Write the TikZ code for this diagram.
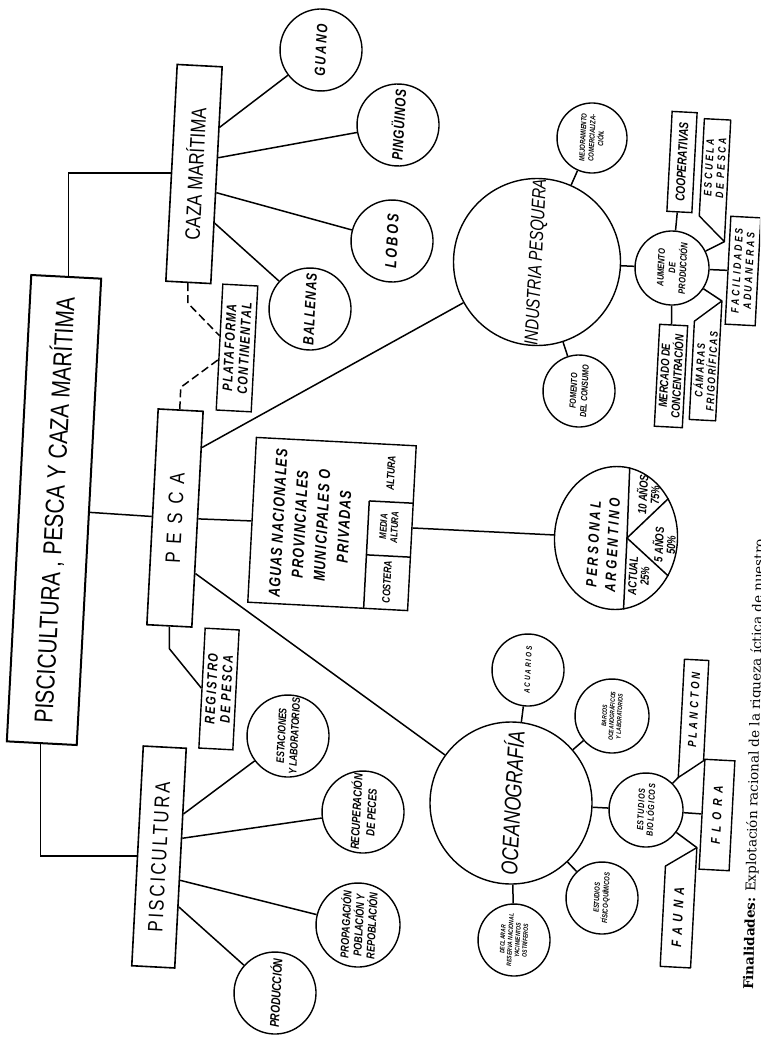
\documentclass[tikz,border=0pt]{standalone}
\usepackage{fontspec}
\setmainfont{Liberation Sans}
\newfontfamily\capsfont[FakeStretch=0.8]{Liberation Sans}
\newfontfamily\plainfont{Liberation Sans}
\newfontfamily\handfont[FakeStretch=0.78]{Liberation Sans}
\newfontfamily\notefont{DejaVu Serif}
\usetikzlibrary{calc}
\usetikzlibrary{shapes.geometric}
\newcommand\fsz[2]{\fontsize{#1}{#2}\selectfont}
\newcommand\spaced[1]{\addfontfeatures{LetterSpace=#1}}
\newcommand\hand{\handfont\bfseries\itshape}
\tikzset{
  conn/.style={line width=1.5pt},
  headbox/.style 2 args={draw, line width=1.6pt, rotate=87, inner sep=0pt, minimum width=#1, minimum height=#2, font=\capsfont\fsz{21}{25}},
  bubble/.style={circle, draw, line width=1.4pt, rotate=87, inner sep=0pt, minimum size=#1, align=center},
  tagbox/.style 2 args={draw, line width=1.4pt, rotate=87, inner sep=0pt, minimum width=#1, minimum height=#2, align=center},
  flagbox/.style 2 args={rotate=87, inner sep=0pt, minimum width=#1, minimum height=#2, align=center},
  flagline/.style={draw, line width=1.4pt, line join=round}
}

\begin{document}
\begin{tikzpicture}[x=1pt, y=-1pt]
    \useasboundingbox (0,0) rectangle (760,1038);
    \clip (0,0) rectangle (760,1038);

    % main headings
    \node [headbox={467pt}{70pt}, line width=2pt, font=\plainfont\fsz{26}{30}] (title) at (54,510) {\scalebox{0.8}[1]{PISCICULTURA , PESCA Y CAZA MARÍTIMA}};
    \node [headbox={217pt}{45pt}] (caza) at (194,174) {CAZA MARÍTIMA};
    \node [headbox={216pt}{45pt}, font=\capsfont\fsz{21}{25}\spaced{40}] (pesca) at (175,518) {PESCA};
    \node [headbox={220pt}{43pt}, font=\capsfont\fsz{21}{25}\spaced{12}] (pisc) at (159,857) {PISCICULTURA};

    % caza maritima
    \node [bubble=82pt, font=\hand\fsz{15}{17}\spaced{15}] (guano) at (321,50) {GUANO};
    \node [bubble=82pt, font=\hand\fsz{15}{17}\spaced{4}] (pingu) at (398,125) {PINGÜINOS};
    \node [bubble=82pt, font=\hand\fsz{16}{18}\spaced{15}] (lobos) at (392,241) {LOBOS};
    \node [bubble=82pt, font=\hand\fsz{15}{17}\spaced{8}] (ballenas) at (310,309) {BALLENAS};
    \node [tagbox={126pt}{35pt}, font=\hand\fsz{14}{15}\spaced{10}] (plat) at (237,348) {PLATAFORMA\\CONTINENTAL};
    \node [tagbox={120pt}{34pt}, font=\hand\fsz{14}{15}\spaced{14}] (reg) at (219,689) {REGISTRO\\DE PESCA};

    % industria pesquera
    \node [bubble=164pt, font=\handfont\itshape\fsz{19}{22}] (ind) at (537,262) {INDUSTRIA PESQUERA};
    \node [bubble=70pt, font=\hand\fsz{7.5}{9}] (mejor) at (592,138) {MEJORAMIENTO\\COMERCIALIZA-\\CIÓN.};
    \node [bubble=74pt, font=\hand\fsz{9.5}{11}] (aum) at (672,268) {AUMENTO\\DE\\PRODUCCIÓN};
    \node [bubble=72pt, font=\hand\fsz{9}{11}] (fom) at (579,391) {FOMENTO\\DEL CONSUMO};
    \node [tagbox={100pt}{25pt}, font=\hand\fsz{13}{14}] (coop) at (682,162) {COOPERATIVAS};
    \node [flagbox={97pt}{26pt}, font=\hand\fsz{11}{12}\spaced{25}] (esc) at (715,168) {ESCUELA\\DE PESCA};
    \node [tagbox={108pt}{30pt}, font=\hand\fsz{11}{12}\spaced{25}] (fac) at (743,271) {FACILIDADES\\ADUANERAS};
    \node [tagbox={102pt}{28pt}, font=\hand\fsz{12}{13}] (merc) at (671,376) {MERCADO DE\\CONCENTRACIÓN};
    \node [flagbox={98pt}{26pt}, font=\hand\fsz{11}{12}\spaced{15}] (cam) at (705,371) {CÁMARAS\\FRIGORÍFICAS};

    % aguas y personal
    \node [draw, line width=1.4pt, rotate=87, inner sep=0pt, minimum width=165pt, minimum height=160pt] (aguas) at (332,524) {};
    \node [rotate=87, align=center, font=\hand\fsz{16}{22}\spaced{8}] (aguastxt) at (311,525) {AGUAS NACIONALES\\PROVINCIALES\\MUNICIPALES O\\PRIVADAS};
    \node [rotate=87, font=\hand\fsz{11}{12}] (costera) at (387,582) {COSTERA};
    \node [rotate=87, align=center, font=\hand\fsz{10}{11}] (media) at (389,527) {MEDIA\\ALTURA};
    \node [rotate=87, font=\hand\fsz{11}{12}] (altura) at (391,473) {ALTURA};
    \node [ellipse, draw, line width=1.4pt, rotate=87, inner sep=0pt, minimum width=143pt, minimum height=123pt] (pers) at (616,538) {};
    \node [rotate=87, align=center, font=\hand\fsz{15}{19}\spaced{20}] (persname) at (603,545) {PERSONAL\\ARGENTINO};
    \node [rotate=87, align=center, font=\hand\fsz{12}{12}] (p10) at (648,495) {10 AÑOS\\75\%};
    \node [rotate=87, align=center, font=\hand\fsz{12}{12}] (p5) at (664,545) {5 AÑOS\\50\%};
    \node [rotate=87, align=center, font=\hand\fsz{12}{12}] (pact) at (639,576) {ACTUAL\\25\%};

    % oceanografia
    \node [bubble=162pt, font=\handfont\itshape\fsz{23}{26}] (ocean) at (511,803) {OCEANOGRAFÍA};
    \node [bubble=72pt, font=\hand\fsz{8}{9}\spaced{25}] (acu) at (528,670) {ACUARIOS};
    \node [bubble=74pt, font=\hand\fsz{6.5}{7.5}] (barc) at (612,716) {BARCOS\\OCEANOGRÁFICOS\\Y LABORATORIOS};
    \node [bubble=74pt, font=\hand\fsz{9}{10}\spaced{10}] (bio) at (646,810) {ESTUDIOS\\BIOLÓGICOS};
    \node [flagbox={100pt}{24pt}, font=\hand\fsz{12}{13}\spaced{28}] (planc) at (694,710) {PLANCTON};
    \node [tagbox={110pt}{30pt}, font=\hand\fsz{13}{14}\spaced{45}] (flora) at (717,815) {FLORA};
    \node [flagbox={100pt}{30pt}, font=\hand\fsz{14}{15}\spaced{40}] (fauna) at (678,917) {FAUNA};
    \node [bubble=72pt, font=\hand\fsz{7.5}{9}] (fis) at (602,898) {ESTUDIOS\\FÍSICO-QUÍMICOS};
    \node [bubble=72pt, font=\hand\fsz{6.5}{7.5}] (decl) at (514,940) {DECLARAR\\RESERVA NACIONAL\\YACIMIENTOS\\OSTRÍFEROS};

    % piscicultura
    \node [bubble=82pt, font=\hand\fsz{11}{13}] (estac) at (288,736) {ESTACIONES\\Y LABORATORIOS};
    \node [bubble=82pt, font=\hand\fsz{12}{15}] (recup) at (363,812) {RECUPERACIÓN\\DE PECES};
    \node [bubble=84pt, font=\hand\fsz{11.5}{13}] (prop) at (358,925) {PROPAGACIÓN\\POBLACIÓN Y\\REPOBLACIÓN};
    \node [bubble=82pt, font=\hand\fsz{13}{15}] (prod) at (275,993) {PRODUCCIÓN};

    % caption
    \node [rotate=88.6, anchor=west, inner sep=0pt, font=\notefont\fsz{13.5}{16}] (note) at (749,990) {\textbf{Finalidades:} Explotación racional de la riqueza íctica de nuestro};

    % flag tails
    \coordinate (esctip) at ($(esc.south east)!1.25!(esc.south west)$);
    \coordinate (camtip) at ($(cam.south west)!1.22!(cam.south east)$);
    \coordinate (planctip) at ($(planc.north east)!1.18!(planc.north west)$);
    \coordinate (faunatip) at ($(fauna.south west)!1.2!(fauna.south east)$);
    \draw [flagline] (esc.south east) -- (esc.north east) -- (esc.north west) -- (esctip) -- cycle;
    \draw [flagline] (cam.south west) -- (cam.north west) -- (cam.north east) -- (camtip) -- cycle;
    \draw [flagline] (planc.north east) -- (planc.south east) -- (planc.south west) -- (planctip) -- cycle;
    \draw [flagline] (fauna.south west) -- (fauna.north west) -- (fauna.north east) -- (faunatip) -- cycle;

    % cells of the aguas box
    \begin{scope}[shift={(aguas.center)}, rotate=-3]
        \draw [conn] (36,-25) -- (36,82);
        \draw [conn] (36,-25) -- (80,-25);
        \draw [conn] (36,29) -- (80,29);
    \end{scope}

    % sectors of personal
    \coordinate (hub) at ($(pers.center)+(11,0)$);
    \draw [conn] (pers.352) -- (hub) -- (pers.189);
    \draw [conn] (pers.310) -- (hub) -- (pers.237);

    % connectors
    \draw [conn] ($(title.north east)!0.53!(title.south east)$) |- (caza.north);
    \draw [conn] (title) -- (pesca);
    \draw [conn] ($(title.north west)!0.48!(title.south west)$) |- (pisc.north);

    \foreach \f/\n in {0.72/guano, 0.58/pingu, 0.42/lobos, 0.28/ballenas}
        \draw [conn] ($(caza.south west)!\f!(caza.south east)$) -- (\n);
    \foreach \f/\n in {0.70/estac, 0.59/recup, 0.40/prop, 0.28/prod}
        \draw [conn] ($(pisc.south west)!\f!(pisc.south east)$) -- (\n);

    \draw [conn] ($(pesca.south west)!0.83!(pesca.south east)$) -- (ind);
    \draw [conn] (pesca) -- (aguas);
    \draw [conn] (aguas) -- (pers);
    \draw [conn] ($(pesca.south west)!0.25!(pesca.south east)$) -- (ocean);
    \draw [conn, dash pattern=on 8pt off 4pt] ($(pesca.north east)!0.48!(pesca.south east)$) -- ++(1,-22) -- ($(plat.north west)!0.4!(plat.north east)$);
    \draw [conn, dash pattern=on 8pt off 4pt] ($(caza.north west)!0.49!(caza.south west)$) -- ++(0,20) -- ($(plat.north west)!0.59!(plat.north east)$);
    \draw [conn] ($(pesca.north west)!0.5!(pesca.south west)$) -- ++(0,22) -- (reg.north);

    \foreach \n in {mejor, aum, fom}
        \draw [conn] (ind) -- (\n);
    \foreach \n in {coop, merc, fac, esctip, camtip}
        \draw [conn] (aum) -- (\n);
    \foreach \n in {acu, barc, bio, fis, decl}
        \draw [conn] (ocean) -- (\n);
    \foreach \n in {planctip, flora, faunatip}
        \draw [conn] (bio) -- (\n);
\end{tikzpicture}
\end{document}
